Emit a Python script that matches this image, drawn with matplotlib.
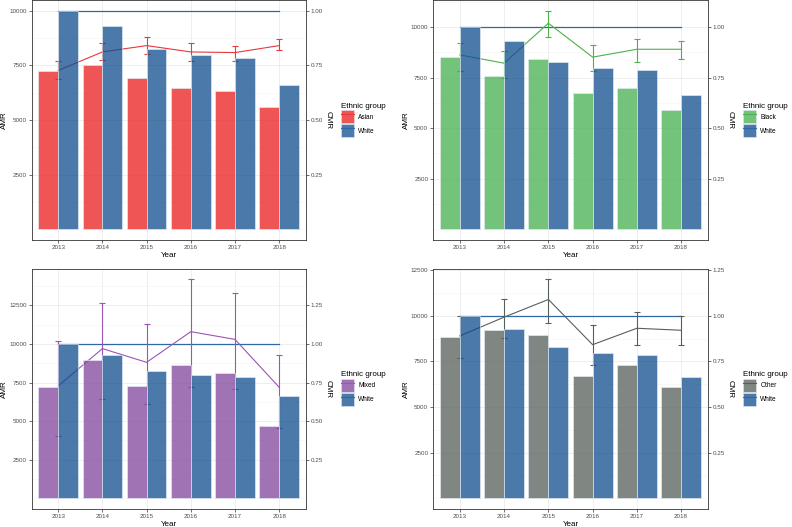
import numpy as np
import matplotlib
matplotlib.use("Agg")
import matplotlib.pyplot as plt
from matplotlib.patches import Patch
from matplotlib.lines import Line2D

years = [2013, 2014, 2015, 2016, 2017, 2018]
white_amr = [10000, 9300, 8270, 7960, 7860, 6620]
white_cmr = [1.0, 1.0, 1.0, 1.0, 1.0, 1.0]

asian_amr = [7240, 7530, 6940, 6460, 6340, 5590]
asian_cmr = [0.727, 0.812, 0.841, 0.812, 0.809, 0.841]
asian_lo = [0.689, 0.773, 0.803, 0.771, 0.771, 0.820]
asian_hi = [0.771, 0.851, 0.880, 0.851, 0.841, 0.869]

black_amr = [8520, 7580, 8420, 6740, 6970, 5900]
black_cmr = [0.863, 0.822, 1.020, 0.852, 0.891, 0.891]
black_lo = [0.782, 0.748, 0.951, 0.782, 0.830, 0.842]
black_hi = [0.921, 0.880, 1.081, 0.911, 0.941, 0.931]

mixed_amr = [7210, 8985, 7280, 8620, 8100, 4690]
mixed_cmr = [0.728, 0.970, 0.881, 1.080, 1.030, 0.719]
mixed_lo = [0.400, 0.641, 0.609, 0.719, 0.708, 0.458]
mixed_hi = [1.022, 1.268, 1.132, 1.419, 1.328, 0.929]

other_amr = [8860, 9210, 8970, 6690, 7330, 6120]
other_cmr = [0.890, 0.993, 1.090, 0.842, 0.932, 0.921]
other_lo = [0.769, 0.879, 0.963, 0.729, 0.842, 0.842]
other_hi = [1.000, 1.092, 1.200, 0.952, 1.020, 1.000]

plt.rcParams['font.family'] = ['Liberation Sans', 'DejaVu Sans']

WHITE_BAR = '#0E4C8C'
WHITE_LINE = '#2F68A6'
ALPHA = 0.75
EDGE = '#E4ECF4'

panels = [
    ("Asian", asian_amr, asian_cmr, asian_lo, asian_hi, '#EB1C1C', '#E8383D',
     [31.7, 240, 274, 240]),
    ("Black", black_amr, black_cmr, black_lo, black_hi, '#44B04E', '#4DB04A',
     [433.3, 240, 274.4, 240]),
    ("Mixed", mixed_amr, mixed_cmr, mixed_lo, mixed_hi, '#80449B', '#9A55B5',
     [31.7, 509, 274, 240.5]),
    ("Other", other_amr, other_cmr, other_lo, other_hi, '#565E58', '#56605B',
     [433.3, 509, 274.4, 240.5]),
]

W, H = 792, 527
fig = plt.figure(figsize=(W / 100, H / 100), dpi=100)

x = np.array(years, dtype=float)
bw = 0.45

for name, amr, cmr, lo, hi, bar_col, line_col, (l, b, w, h) in panels:
    ax = fig.add_axes([l / W, (H - b) / H, w / W, h / H])
    cmr = np.array(cmr)
    lo = np.array(lo)
    hi = np.array(hi)

    # lines sit under the semi-transparent bars
    ax.plot(x, np.array(white_cmr) * 10000, color=WHITE_LINE, lw=0.9, zorder=2)
    ax.plot(x, cmr * 10000, color=line_col, lw=0.8, zorder=2)
    ax.errorbar(x, cmr * 10000, yerr=[(cmr - lo) * 10000, (hi - cmr) * 10000],
                fmt='none', ecolor=line_col, elinewidth=0.8, capsize=2.4,
                capthick=0.8, zorder=2)

    ax.bar(x - bw / 2, amr, width=bw, color=bar_col, alpha=ALPHA,
           edgecolor=EDGE, linewidth=0.6, zorder=3)
    ax.bar(x + bw / 2, white_amr, width=bw, color=WHITE_BAR, alpha=ALPHA,
           edgecolor=EDGE, linewidth=0.6, zorder=3)

    top = max(max(amr), max(white_amr), max(hi) * 10000)
    ax.set_ylim(-0.05 * top, 1.05 * top)
    ax.set_xlim(2012.4, 2018.6)

    yt = np.arange(2500, top * 1.05, 2500)
    ax.set_yticks(yt)
    ax.set_yticklabels([f"{int(v)}" for v in yt])
    ax.set_yticks(np.arange(0, top * 1.05, 1250), minor=True)
    ax.set_xticks(years)
    ax.set_xticklabels([str(y) for y in years])

    ax.grid(True, which='major', color='#EBEBEB', lw=0.6, zorder=0)
    ax.grid(True, which='minor', axis='y', color='#F3F3F3', lw=0.4, zorder=0)
    ax.set_axisbelow(True)
    ax.tick_params(which='major', length=2.2, width=0.5, color='#333333',
                   labelsize=4.5, labelcolor='#4D4D4D', pad=1.5)
    ax.tick_params(which='minor', length=0)
    for s in ax.spines.values():
        s.set_color('#333333')
        s.set_linewidth(0.6)

    ax.set_xlabel("Year", fontsize=5.8, labelpad=1.5)
    ax.set_ylabel("AMR", fontsize=5.8, labelpad=0.8)

    sec = ax.secondary_yaxis('right', functions=(lambda v: v / 10000, lambda v: v * 10000))
    st = np.arange(0.25, top * 1.05 / 10000, 0.25)
    sec.set_yticks(st)
    sec.set_yticklabels([f"{v:.2f}" for v in st])
    sec.tick_params(length=2.2, width=0.5, color='#333333', labelsize=4.5,
                    labelcolor='#4D4D4D', pad=1.5)
    sec.spines['right'].set_visible(False)
    sec.set_ylabel("CMR", fontsize=5.8, rotation=270, labelpad=6)

    handles = [
        (Patch(facecolor=bar_col, alpha=ALPHA, edgecolor=EDGE, lw=0.5),
         Line2D([], [], color=line_col, lw=0.8)),
        (Patch(facecolor=WHITE_BAR, alpha=ALPHA, edgecolor=EDGE, lw=0.5),
         Line2D([], [], color=WHITE_LINE, lw=0.8)),
    ]
    leg = ax.legend(handles, [name, "White"], title="Ethnic group",
                    loc='center left', bbox_to_anchor=(1.13, 0.5),
                    frameon=False, fontsize=4.7, title_fontsize=5.8,
                    handlelength=2.0, handleheight=2.8, handletextpad=0.6,
                    labelspacing=0.05, borderpad=0, borderaxespad=0)
    leg._legend_box.align = 'left'

fig.savefig("out.png", dpi=100)
